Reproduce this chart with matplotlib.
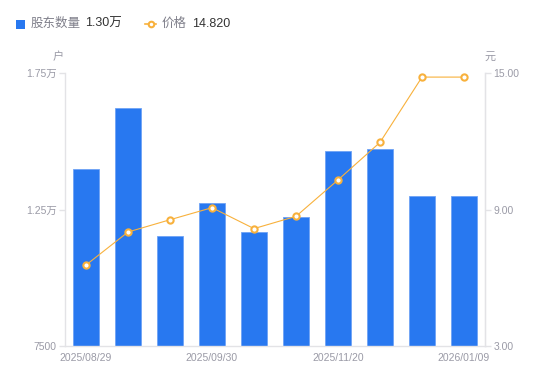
import matplotlib
matplotlib.use("Agg")
import matplotlib.pyplot as plt
from matplotlib.lines import Line2D
from matplotlib.patches import Rectangle

plt.rcParams['font.family'] = ['Liberation Sans', 'Noto Sans CJK SC', 'DejaVu Sans']

dates = ["2025/08/29", "2025/09/10", "2025/09/19", "2025/09/30", "2025/10/20",
         "2025/10/31", "2025/11/20", "2025/12/10", "2025/12/31", "2026/01/09"]
holders = [13980, 16220, 11530, 12740, 11680, 12210, 14640, 14700, 13000, 13000]
price = [6.56, 8.01, 8.55, 9.08, 8.16, 8.70, 10.30, 11.95, 14.82, 14.82]
left_ticks = [7500, 12500, 17500]
left_tick_labels = ["7500", "1.25万", "1.75万"]
right_ticks = [3.0, 9.0, 15.0]
right_tick_labels = ["3.00", "9.00", "15.00"]

BLUE = '#2878F0'
ORANGE = '#F8B13C'
GRAY = '#9A9AA6'
SPINE = '#E3E3E6'

fig = plt.figure(figsize=(5.5, 3.81), dpi=100)
ax = fig.add_axes([65/550, 1-346/381, 420/550, 273/381])
x = list(range(len(dates)))
ax.bar(x, [h - 7500 for h in holders], bottom=7500, width=0.6, color=BLUE,
       edgecolor='#6FA3F5', linewidth=0.6, zorder=2)
ax.set_xlim(-0.5, len(dates) - 0.5)
ax.set_ylim(7500, 17500)
ax.set_yticks(left_ticks)
ax.set_yticklabels(left_tick_labels)
ax.set_xticks(x[::3])
ax.set_xticklabels(dates[::3])
ax.spines['top'].set_visible(False)
for s in ['left', 'right', 'bottom']:
    ax.spines[s].set_color(SPINE)
    ax.spines[s].set_linewidth(1)
ax.tick_params(axis='y', colors=SPINE, labelcolor=GRAY, labelsize=7.5, length=4, width=1, pad=2)
ax.tick_params(axis='x', length=0, labelcolor=GRAY, labelsize=7.5, pad=5)

ax2 = ax.twinx()
ax2.plot(x, price, color=ORANGE, linewidth=0.8, marker='o', markersize=4.5,
         markerfacecolor='white', markeredgecolor=ORANGE, markeredgewidth=1.5, zorder=3)
ax2.set_ylim(3, 15)
ax2.set_yticks(right_ticks)
ax2.set_yticklabels(right_tick_labels)
for s in ['top', 'left', 'bottom']:
    ax2.spines[s].set_visible(False)
ax2.spines['right'].set_color(SPINE)
ax2.tick_params(axis='y', colors=SPINE, labelcolor=GRAY, labelsize=7.5, length=4, width=1, pad=2)

fig.text(58/550, 1-57/381, "户", color=GRAY, fontsize=8, ha='center', va='center')
fig.text(490/550, 1-57/381, "元", color=GRAY, fontsize=8, ha='center', va='center')

# legend
fig.patches.append(Rectangle((16/550, 1-29/381), 9/550, 9/381, transform=fig.transFigure,
                             facecolor=BLUE, edgecolor='none'))
fig.text(31/550, 1-24/381, "股东数量", color='#7F7F8A', fontsize=9, va='center')
fig.text(85/550, 1-24/381, "1.30万", color='#333333', fontsize=9, va='center')
fig.lines.append(Line2D([145/550, 150.5/550, 156/550], [1-24/381] * 3, transform=fig.transFigure,
                        color=ORANGE, linewidth=1.2, marker='o', markersize=4, markevery=[1],
                        markerfacecolor='white', markeredgecolor=ORANGE, markeredgewidth=1.5))
fig.text(162/550, 1-24/381, "价格", color='#7F7F8A', fontsize=9, va='center')
fig.text(192/550, 1-24/381, "14.820", color='#333333', fontsize=9, va='center')

fig.savefig("out.png", dpi=100)
